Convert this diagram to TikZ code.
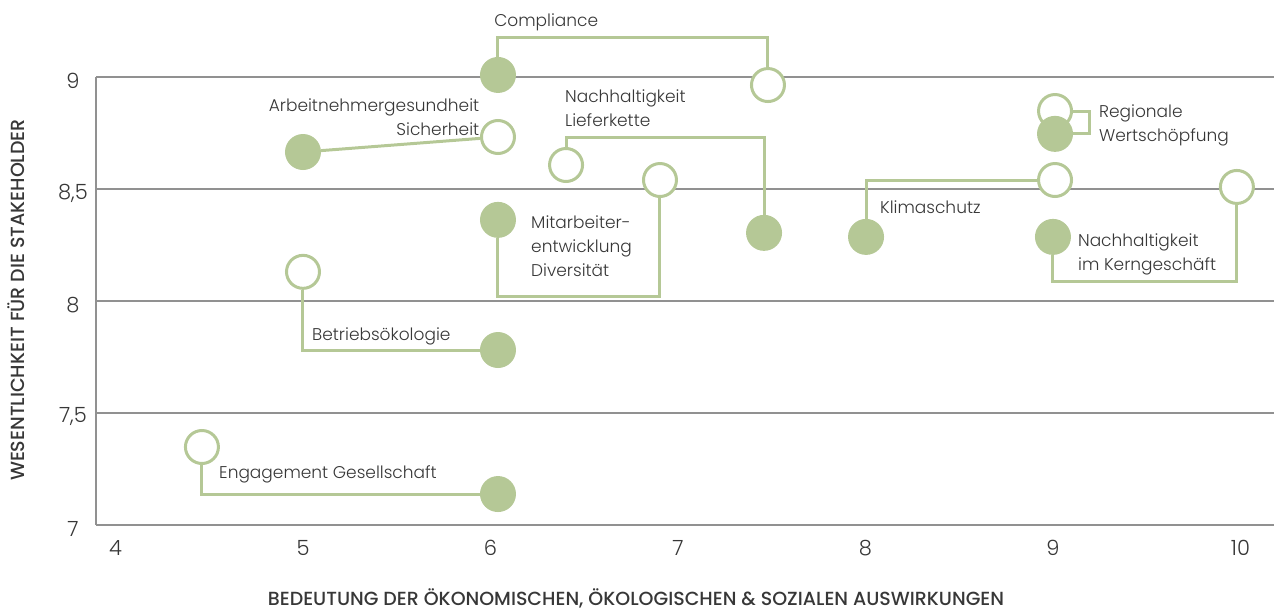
\documentclass[tikz,border=0pt]{standalone}
\usepackage{fontspec}
\setmainfont{Poppins}[UprightFont=* Light, BoldFont=* Medium]
\usetikzlibrary{positioning,backgrounds}
\definecolor{matgreen}{RGB}{181,200,150}
\definecolor{gridgray}{RGB}{145,145,145}
\definecolor{txtgray}{RGB}{55,55,55}

\begin{document}
\begin{tikzpicture}[x=187.5pt, y=224pt,
  filled/.style={circle, fill=matgreen, minimum size=36pt, inner sep=0pt},
  hollow/.style={circle, draw=matgreen, fill=white, line width=3pt, minimum size=33pt, inner sep=0pt},
  link/.style={draw=matgreen, line width=3pt},
  lbl/.style={text=txtgray, font=\fontsize{17}{24}\selectfont, inner sep=0pt, align=left, anchor=west},
  ticklbl/.style={text=txtgray, font=\fontsize{21}{24}\selectfont, inner sep=0pt},
  axislbl/.style={text=txtgray, font=\fontsize{19}{22}\selectfont\bfseries, inner sep=0pt}]
 \useasboundingbox (3.384,6.6071) rectangle (10.179,9.34375);

 % grid
 \begin{pgfonlayer}{background}
  \foreach \g in {7,7.5,...,9}
   \draw[gridgray, line width=1.5pt] (3.896,\g) -- (10.179,\g);
  \draw[gridgray, line width=1.5pt] (3.896,7) -- (3.896,9);
 \end{pgfonlayer}

 % ticks and axis titles
 \foreach \v in {4,...,10}
  \node[ticklbl] (xt\v) at (\v,6.897) {\v};
 \foreach \v/\t in {9/9, 8.5/{8,5}, 8/8, 7.5/{7,5}, 7/7}
  \node[ticklbl] (yt\v) at (3.773,\v-0.018) {\t};
 \node[axislbl] (xtitle) at (6.776,6.672) {BEDEUTUNG DER ÖKONOMISCHEN, ÖKOLOGISCHEN \& SOZIALEN AUSWIRKUNGEN};
 \node[axislbl, rotate=90] (ytitle) at (3.47,8.004) {WESENTLICHKEIT FÜR DIE STAKEHOLDER};

 % topics
 \node[filled] (cCf) at (6.04,9.009) {};
 \node[hollow] (cCo) at (7.48,8.964) {};
 \node[filled] (cAf) at (5.0,8.665) {};
 \node[hollow] (cAo) at (6.04,8.732) {};
 \node[hollow] (cLo) at (6.403,8.607) {};
 \node[filled] (cLf) at (7.459,8.304) {};
 \node[filled] (cMf) at (6.04,8.362) {};
 \node[hollow] (cMo) at (6.904,8.54) {};
 \node[hollow] (cBo) at (5.0,8.13) {};
 \node[filled] (cBf) at (6.04,7.781) {};
 \node[hollow] (cEo) at (4.461,7.348) {};
 \node[filled] (cEf) at (6.04,7.138) {};
 \node[filled] (cKf) at (8.003,8.286) {};
 \node[hollow] (cKo) at (9.011,8.54) {};
 \node[hollow] (cRo) at (9.011,8.848) {};
 \node[filled] (cRf) at (9.011,8.746) {};
 \node[filled] (cNf) at (9.0,8.286) {};
 \node[hollow] (cNo) at (9.981,8.509) {};

 % labels
 \node[lbl] (tC) at (6.019,9.2455) {Compliance};
 \node[lbl, anchor=east, align=right] (tA) at (5.941,8.819) {Arbeitnehmergesundheit\\Sicherheit};
 \node[lbl] (tL) at (6.397,8.862) {Nachhaltigkeit\\Lieferkette};
 \node[lbl] (tM) at (6.216,8.246) {Mitarbeiter-\\entwicklung\\Diversität};
 \node[lbl] (tB) at (5.048,7.844) {Betriebsökologie};
 \node[lbl] (tE) at (4.552,7.228) {Engagement Gesellschaft};
 \node[lbl] (tK) at (8.077,8.42) {Klimaschutz};
 \node[lbl] (tR) at (9.245,8.783) {Regionale\\Wertschöpfung};
 \node[lbl] (tN) at (9.133,8.21) {Nachhaltigkeit\\im Kerngeschäft};

 % connectors
 \begin{pgfonlayer}{background}
  \draw[link] (cCf.north) |- (6.7,9.174) -| (cCo.north);
  \draw[link] (cAf) -- (cAo);
  \draw[link] (cLo.north) |- (7,8.732) -| (cLf.north);
  \draw[link] (cMf.south) |- (6.5,8.022) -| (cMo.south);
  \draw[link] (cBo.south) |- (cBf.west);
  \draw[link] (cEo.south) |- (cEf.west);
  \draw[link] (cKf.north) |- (cKo.west);
  \draw[link] (cRo.east) -- ++(0.09,0) |- (cRf.east);
  \draw[link] (cNf.south) |- (9.5,8.089) -| (cNo.south);
 \end{pgfonlayer}
\end{tikzpicture}
\end{document}
